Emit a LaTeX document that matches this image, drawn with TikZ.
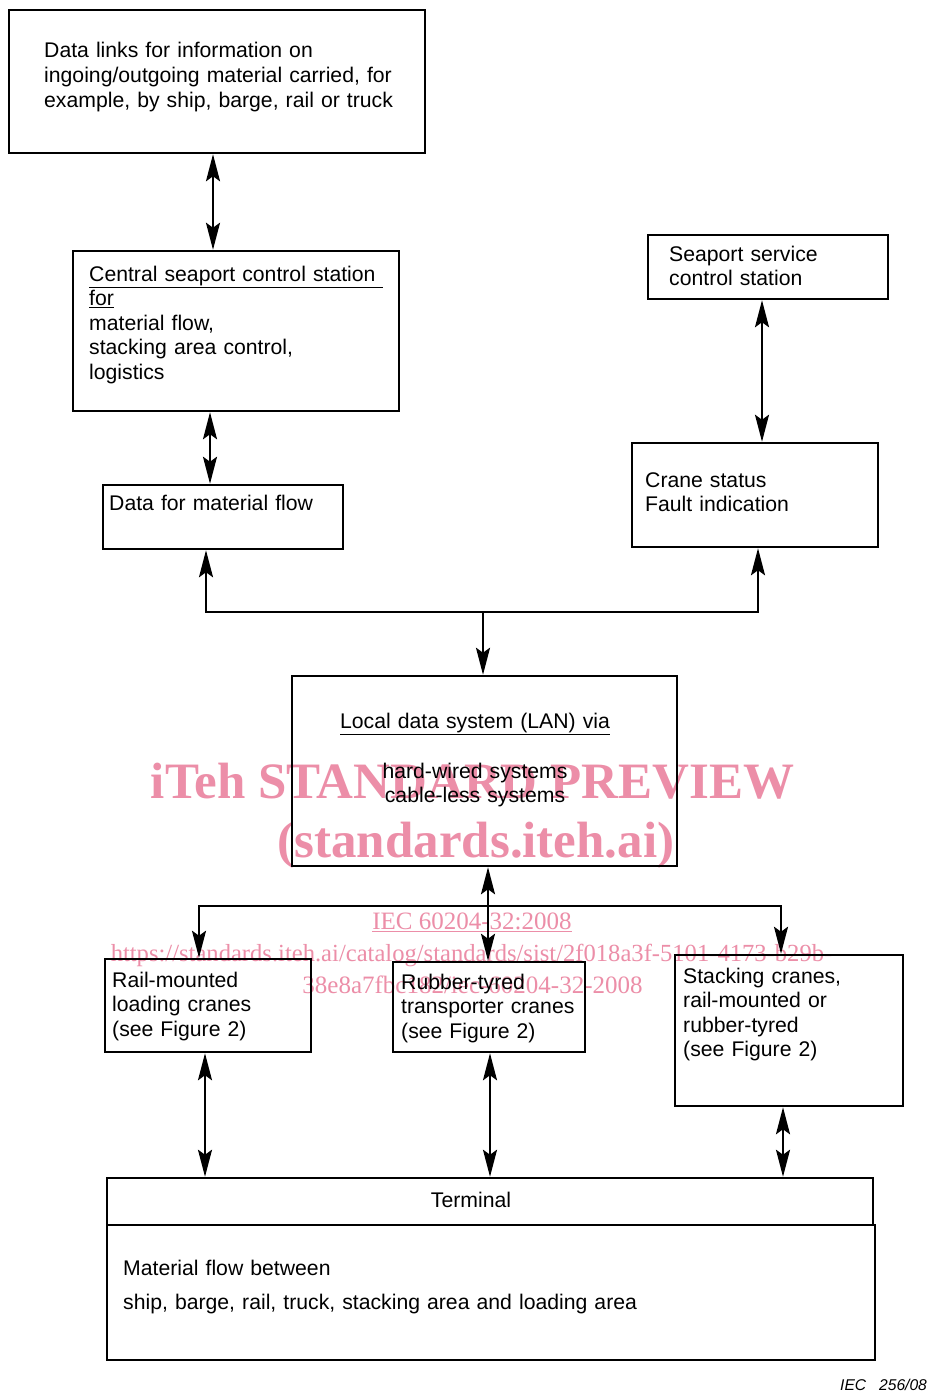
\documentclass[tikz,border=0pt]{standalone}
\usepackage{fontspec}
\setmainfont{Liberation Sans}
\newfontfamily\wmfont{Liberation Serif}
\usetikzlibrary{arrows.meta}
\definecolor{wm}{RGB}{236,142,168}
\tikzset{
  box/.style={draw, line width=2.5pt, inner sep=0pt},
  txt/.style={anchor=base west, inner sep=0pt, align=left, text width=420pt,
    font=\fontsize{21.2}{24.6}\selectfont},
  ctxt/.style={anchor=base, inner sep=0pt, align=center, text width=360pt,
    font=\fontsize{21.2}{24.6}\selectfont},
  wmtxt/.style={anchor=base, inner sep=0pt, text=wm},
  tip/.style={},
  conn/.style={line width=2.2pt, -{Stealth[length=27pt,width=14pt,inset=5pt]}},
  dconn/.style={line width=2.2pt, {Stealth[length=27pt,width=14pt,inset=5pt]}-{Stealth[length=27pt,width=14pt,inset=5pt]}}
}
\begin{document}
\begin{tikzpicture}[x=1pt,y=-1pt]
\useasboundingbox[fill=white] (0,0) rectangle (926,1397);

% watermark (behind)
\node[wmtxt, font=\wmfont\bfseries\fontsize{51}{51}\selectfont] (wm1) at (472.5,798) {iTeh STANDARD PREVIEW};
\node[wmtxt, font=\wmfont\bfseries\fontsize{51}{51}\selectfont] (wm2) at (476,857) {(standards.iteh.ai)};
\node[wmtxt, font=\wmfont\fontsize{25}{25}\selectfont] (wm3) at (472,929) {\underline{IEC 60204-32:2008}};
\node[wmtxt, font=\wmfont\fontsize{24.6}{25}\selectfont] (wm4) at (471.5,961) {https://standards.iteh.ai/catalog/standards/sist/2f018a3f-5101-4173-b29b-};
\node[wmtxt, font=\wmfont\fontsize{25}{25}\selectfont] (wm5) at (472.5,993) {38e8a7fbc182/iec-60204-32-2008};

% boxes
\node[box, minimum width=416pt, minimum height=143pt] (links) at (217,81.5) {};
\node[box, minimum width=326pt, minimum height=160pt] (central) at (236,331) {};
\node[box, minimum width=240pt, minimum height=64pt] (data) at (223,517) {};
\node[box, minimum width=240pt, minimum height=64pt] (service) at (768,267) {};
\node[box, minimum width=246pt, minimum height=104pt] (crane) at (755,495) {};
\node[box, minimum width=385pt, minimum height=190pt] (lan) at (484.5,771) {};
\node[box, minimum width=206pt, minimum height=93pt] (rail) at (208,1005.5) {};
\node[box, minimum width=192pt, minimum height=90pt] (rubber) at (489,1007) {};
\node[box, minimum width=228pt, minimum height=151pt] (stack) at (789,1030.5) {};
\node[box, minimum width=766pt, minimum height=47pt] (term) at (490,1201.5) {};
\node[box, minimum width=768pt, minimum height=135pt] (body) at (491,1292.5) {};

% texts
\node[txt] (tlinks) at (44,58) {Data links for information on\\ingoing/outgoing material carried, for\\example, by ship, barge, rail or truck};
\node[txt] (tcentral) at (89,281) {\underline{Central seaport control station~}\\\underline{for}\\material flow,\\stacking area control,\\logistics};
\node[txt] (tdata) at (109,510) {Data for material flow};
\node[txt] (tservice) at (669,261) {Seaport service\\control station};
\node[txt] (tcrane) at (645,487) {Crane status\\Fault indication};
\node[ctxt] (tlan1) at (475,728) {\underline{Local data system (LAN) via}};
\node[ctxt] (tlan2) at (475,778) {hard-wired systems\\cable-less systems};
\node[txt] (trail) at (112,987) {Rail-mounted\\loading cranes\\(see Figure 2)};
\node[txt] (trubber) at (401,989) {Rubber-tyred\\transporter cranes\\(see Figure 2)};
\node[txt] (tstack) at (683,983) {Stacking cranes,\\rail-mounted or\\rubber-tyred\\(see Figure 2)};
\node[ctxt] (tterm) at (471,1207) {Terminal};
\node[txt, text width=700pt] (tbody) at (123,1275) {Material flow between\\[9.4pt]ship, barge, rail, truck, stacking area and loading area};
\node[anchor=base west, inner sep=0pt, font=\itshape\fontsize{15.6}{16}\selectfont] (iec) at (840,1390) {IEC\hspace{13pt}256/08};

% helper x-positions
\coordinate (x213) at (213,0);
\coordinate (x210) at (210,0);
\coordinate (x762) at (762,0);
\coordinate (x206) at (206,0);
\coordinate (x758) at (758,0);
\coordinate (x199) at (199,0);
\coordinate (x781) at (781,0);
\coordinate (x205) at (205,0);
\coordinate (x490) at (490,0);
\coordinate (x783) at (783,0);
\coordinate (j1) at (483,612);
\coordinate (j2) at (488,906);

% connectors
\draw[dconn] (links.south -| x213) -- (central.north -| x213);
\draw[dconn] (central.south -| x210) -- (data.north -| x210);
\draw[dconn] (service.south -| x762) -- (crane.north -| x762);
\draw[conn] (j1) -| (data.south -| x206);
\draw[conn] (j1) -| (crane.south -| x758);
\draw[conn] (j1) -- (lan.north -| j1);
\draw[dconn] (lan.south -| j2) -- (rubber.north -| j2);
\draw[conn] (j2) -| (rail.north -| x199);
\draw[conn] (j2) -| (stack.north -| x781);
\draw[dconn] (rail.south -| x205) -- (term.north -| x205);
\draw[dconn] (rubber.south -| x490) -- (term.north -| x490);
\draw[dconn] (stack.south -| x783) -- (term.north -| x783);
\end{tikzpicture}
\end{document}
